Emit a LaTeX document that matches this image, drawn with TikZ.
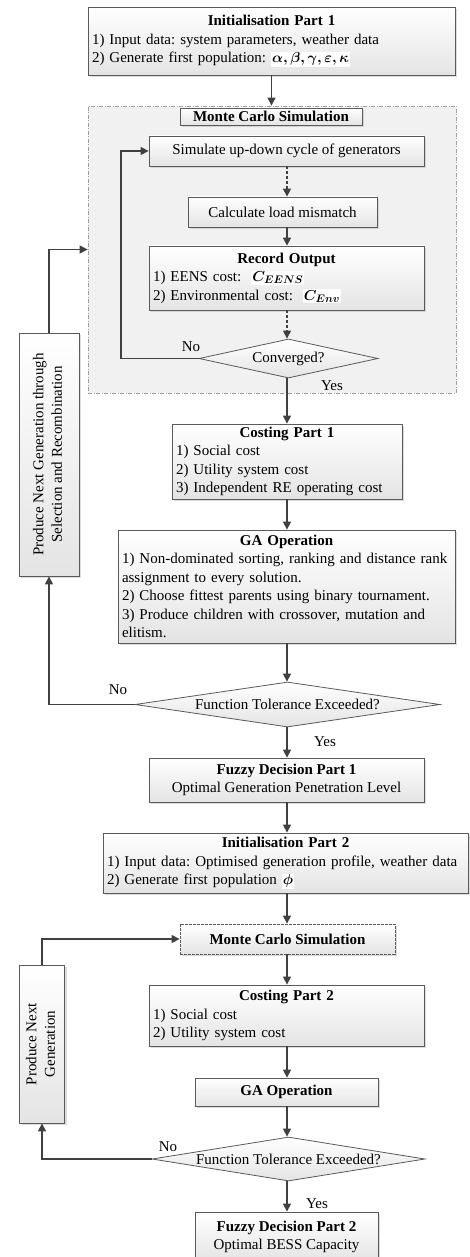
\documentclass[tikz,border=0pt]{standalone}
\usepackage{fontspec}
\setmainfont{Liberation Serif}
\usepackage{amsmath}
\usepackage{graphicx}
\usetikzlibrary{arrows.meta,shapes.geometric,shadows}
\definecolor{edge}{HTML}{5A5A5A}
\definecolor{arrc}{HTML}{404040}
\definecolor{boxbot}{HTML}{E4E4E4}
\definecolor{cont}{HTML}{F1F1F1}
\newcommand\ttl[1]{\hbox to\hsize{\hss\bfseries #1\hss}}
\newcommand\mbx[1]{{\setlength{\fboxsep}{1pt}\colorbox{white}{$\boldsymbol{#1}$}}}
\frenchspacing
\begin{document}
\begin{tikzpicture}[x=1pt,y=-1pt,
  font=\fontsize{15}{18.5}\selectfont,
  box/.style={draw=edge, line width=0.8pt, top color=white, bottom color=boxbot,
    drop shadow={shadow xshift=2pt,shadow yshift=-2pt,fill=gray!55},
    inner xsep=4pt, inner ysep=0pt, align=center},
  dec/.style={diamond, draw=edge, line width=0.8pt, top color=white, bottom color=boxbot,
    inner sep=0pt, aspect=6},
  arr/.style={draw=arrc, line width=1.3pt, -{Triangle[length=8pt,width=8pt]}},
  darr/.style={arr, dash pattern=on 3pt off 2pt},
  lbl/.style={inner sep=0pt}]
\useasboundingbox (0,0) rectangle (469,1257);
\coordinate (col) at (287,0);

% first stage
\node[box, minimum width=367, minimum height=68, text width=359, align=left] (init1) at (271.5,41)
  {\ttl{Initialisation Part 1}\\1) Input data: system parameters, weather data\\2) Generate first population: \mbx{\alpha,\beta,\gamma,\varepsilon,\kappa}};

\node[draw=gray!75, fill=cont, line width=0.8pt, dash pattern=on 4pt off 1.5pt on 1pt off 1.5pt,
  minimum width=368, minimum height=287, inner sep=0pt] (mcc) at (272,249.5) {};

\node[box, minimum width=182, minimum height=17] (mct1) at (271,116.5) {\bfseries Monte Carlo Simulation};
\node[box, minimum width=275, minimum height=30] (sim) at (286.5,151) {Simulate up-down cycle of generators};
\node[box, minimum width=189, minimum height=30] (calc) at (282.5,212) {Calculate load mismatch};
\node[box, minimum width=275, minimum height=64, text width=267, align=left] (rec) at (286.5,278)
  {\ttl{Record Output}\\1) EENS cost: \ \mbx{C_{EENS}}\\2) Environmental cost: \ \mbx{C_{Env}}};
\node[dec, minimum width=179, minimum height=39] (conv) at (288.5,358.5) {Converged?};

\node[box, minimum width=230, minimum height=75, text width=222, align=left] (cost1) at (287,461.5)
  {\ttl{Costing Part 1}\\1) Social cost\\2) Utility system cost\\3) Independent RE operating cost};
\node[box, minimum width=337, minimum height=113, text width=329, align=left] (ga1) at (286.5,586.5)
  {\ttl{GA Operation}\\1) Non-dominated sorting, ranking and distance rank\\assignment to every solution.\\2) Choose fittest parents using binary tournament.\\3) Produce children with crossover, mutation and\\elitism.};
\node[dec, minimum width=305, minimum height=45] (ft1) at (287.5,704.5) {Function Tolerance Exceeded?};
\node[box, minimum width=60, minimum height=243] (prod1) at (49,454.5)
  {\rotatebox{90}{\begin{tabular}{@{}c@{}}Produce Next Generation through\\Selection and Recombination\end{tabular}}};

\node[box, minimum width=275, minimum height=44] (fz1) at (286.5,780)
  {\textbf{Fuzzy Decision Part 1}\\Optimal Generation Penetration Level};

% second stage
\node[box, minimum width=365, minimum height=60, text width=357, align=left] (init2) at (285.5,863)
  {\ttl{Initialisation Part 2}\\1) Input data: Optimised generation profile, weather data\\2) Generate first population \mbx{\phi}};
\node[box, minimum width=215, minimum height=30, dash pattern=on 3pt off 1pt] (mc2) at (287.5,939)
  {\bfseries Monte Carlo Simulation};
\node[box, minimum width=275, minimum height=61, text width=267, align=left] (cost2) at (286.5,1015.5)
  {\ttl{Costing Part 2}\\1) Social cost\\2) Utility system cost};
\node[box, minimum width=183, minimum height=28] (ga2) at (286.5,1092) {\bfseries GA Operation};
\node[dec, minimum width=273, minimum height=44] (ft2) at (288.5,1159) {Function Tolerance Exceeded?};
\node[box, minimum width=42, minimum height=158] (prod2) at (42,1044)
  {\rotatebox{90}{\begin{tabular}{@{}c@{}}Produce Next\\Generation\end{tabular}}};
\node[box, minimum width=183, minimum height=50] (fz2) at (286.5,1237)
  {\textbf{Fuzzy Decision Part 2}\\Optimal BESS Capacity};

% labels
\node[lbl] (no1) at (191,347) {No};
\node[lbl] (yes1) at (332,386) {Yes};
\node[lbl] (no2) at (118,690) {No};
\node[lbl] (yes2) at (325,742) {Yes};
\node[lbl] (no3) at (168,1147) {No};
\node[lbl] (yes3) at (317,1204) {Yes};

% connectors
\coordinate (lp) at (121,358.5);
\draw[arr] (init1.south) -- (init1.south |- mcc.north);
\draw[darr] (sim.south -| col) -- (calc.north -| col);
\draw[arr] (calc.south -| col) -- (rec.north -| col);
\draw[darr] (rec.south -| col) -- (conv.north -| col);
\draw[arr] (conv.west) -- (conv.west -| lp) |- (sim.west);
\draw[arr] (conv.south -| col) -- (cost1.north -| col);
\draw[arr] (cost1.south -| col) -- (ga1.north -| col);
\draw[arr] (ga1.south -| col) -- (ft1.north -| col);
\draw[arr] (ft1.west) -| (prod1.south);
\draw[arr] (prod1.north) |- (mcc.west);
\draw[arr] (ft1.south -| col) -- (fz1.north -| col);
\draw[arr] (fz1.south -| col) -- (init2.north -| col);
\draw[arr] (init2.south -| col) -- (mc2.north -| col);
\draw[arr] (mc2.south -| col) -- (cost2.north -| col);
\draw[arr] (cost2.south -| col) -- (ga2.north -| col);
\draw[arr] (ga2.south -| col) -- (ft2.north -| col);
\draw[arr] (ft2.west) -| (prod2.south);
\draw[arr] (prod2.north) |- (mc2.west);
\draw[arr] (ft2.south -| col) -- (fz2.north -| col);
\end{tikzpicture}
\end{document}
